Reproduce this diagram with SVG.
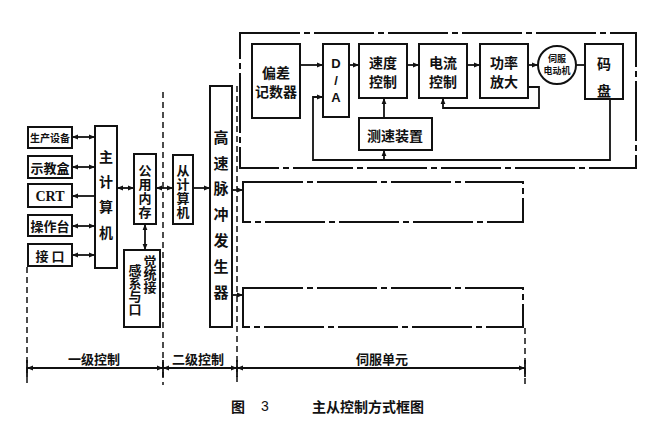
<svg xmlns="http://www.w3.org/2000/svg" width="650" height="422" viewBox="0 0 650 422">
<defs>
<style>
.b{fill:#fff;stroke:#111;stroke-width:2}
.dd{fill:none;stroke:#111;stroke-width:2;stroke-dasharray:60 4 6 4}
.c{fill:none;stroke:#111;stroke-width:1.8}
.sep{fill:none;stroke:#111;stroke-width:1.5;stroke-dasharray:6 4}
text{font-family:"Noto Sans CJK SC","Noto Sans",sans-serif;font-weight:bold;fill:#111;text-anchor:middle;dominant-baseline:central}
.v{writing-mode:vertical-rl;text-orientation:upright}
.t12{font-size:12px}
.t13{font-size:13px}
.t14{font-size:14px}
.t15{font-size:15px}
.sm{font-size:9px}
.en{font-family:"Liberation Serif",serif;font-size:14px}
.sans{font-family:"Liberation Sans",sans-serif;font-size:13px}
</style>
<marker id="ah" viewBox="0 0 10 10" refX="10" refY="5" markerWidth="7" markerHeight="6" markerUnits="userSpaceOnUse" orient="auto-start-reverse">
<path d="M0,1 L10,5 L0,9 z" fill="#111"/>
</marker>
</defs>
<rect width="650" height="422" fill="#fff"/>

<g id="separators">
<line class="sep" x1="27" y1="267" x2="27" y2="385"/>
<line class="sep" x1="163" y1="92" x2="163" y2="385"/>
<line class="sep" x1="237" y1="86" x2="237" y2="385"/>
<line class="sep" x1="525" y1="328" x2="525" y2="385"/>
</g>

<g id="n-shengchan"><rect class="b" x="28" y="127" width="44" height="21"/><text x="50" y="137.5" style="font-size:10px">生产设备</text></g>
<g id="n-shijiao"><rect class="b" x="28" y="156" width="44" height="22"/><text class="t13" x="50" y="167">示教盒</text></g>
<g id="n-crt"><rect class="b" x="28" y="184" width="44" height="23"/><text class="en" x="50" y="196">CRT</text></g>
<g id="n-caozuo"><rect class="b" x="28" y="215" width="44" height="21"/><text class="t13" x="50" y="225.5">操作台</text></g>
<g id="n-jiekou"><rect class="b" x="28" y="244" width="44" height="22"/><text class="t13" x="50" y="255">接 口</text></g>

<g id="n-zhu"><rect class="b" x="95" y="126" width="22" height="142"/>
<text class="t14 v" x="106" y="200" style="letter-spacing:11.3px">主计算机</text></g>

<g id="n-gongyong"><rect class="b" x="134" y="154" width="22" height="70"/>
<text class="t13 v" x="145" y="191.5" style="letter-spacing:1px">公用内存</text></g>

<g id="n-cong"><rect class="b" x="173" y="155" width="20" height="69"/>
<text class="t13 v" x="183" y="191.5" style="letter-spacing:1px">从计算机</text></g>

<g id="n-ganjue"><rect class="b" x="124" y="250" width="36" height="77"/>
<text class="t13 v" x="135" y="289.5">感系与口</text>
<text class="t13 v" x="150" y="274">觉统接</text></g>

<g id="n-gaosu"><rect class="b" x="210" y="86" width="22" height="241"/>
<text class="t15 v" x="221" y="220" style="letter-spacing:10.8px">高速脉冲发生器</text></g>

<g id="n-servo1"><rect class="dd" x="240" y="33" width="396" height="135"/></g>
<g id="n-servo2"><rect class="dd" x="243" y="182" width="280" height="40"/></g>
<g id="n-servo3"><rect class="dd" x="243" y="288" width="280" height="39"/></g>

<g id="n-piancha"><rect class="b" x="252" y="44" width="48" height="74"/><text class="t14"><tspan x="276" y="72">偏差</tspan><tspan x="276" y="91">记数器</tspan></text></g>
<g id="n-da"><rect class="b" x="323" y="44" width="26" height="73"/><text class="sans v" x="336" y="81" style="letter-spacing:2px">D/A</text></g>
<g id="n-sudu"><rect class="b" x="359" y="44" width="48" height="54"/><text class="t14"><tspan x="383" y="61.5">速度</tspan><tspan x="383" y="80.5">控制</tspan></text></g>
<g id="n-dianliu"><rect class="b" x="419" y="44" width="48" height="54"/><text class="t14"><tspan x="443" y="61.5">电流</tspan><tspan x="443" y="80.5">控制</tspan></text></g>
<g id="n-gonglv"><rect class="b" x="480" y="44" width="48" height="54"/><text class="t14"><tspan x="504" y="61.5">功率</tspan><tspan x="504" y="80.5">放大</tspan></text></g>
<g id="n-motor"><circle class="b" cx="557" cy="65" r="19"/><text class="sm"><tspan x="557" y="58">伺服</tspan><tspan x="557" y="70">电动机</tspan></text></g>
<g id="n-mapan"><rect class="b" x="585" y="44" width="38" height="55"/><text class="t14"><tspan x="604" y="63">码</tspan><tspan x="604" y="90">盘</tspan></text></g>
<g id="n-cesu"><rect class="b" x="359" y="118" width="73" height="32"/><text class="t14" x="395" y="135">测速装置</text></g>

<g id="connectors">
<line class="c" x1="72" y1="137" x2="95" y2="137" marker-start="url(#ah)" marker-end="url(#ah)"/>
<line class="c" x1="72" y1="167" x2="95" y2="167" marker-start="url(#ah)" marker-end="url(#ah)"/>
<line class="c" x1="72" y1="196" x2="95" y2="196" marker-start="url(#ah)"/>
<line class="c" x1="72" y1="226" x2="95" y2="226" marker-start="url(#ah)" marker-end="url(#ah)"/>
<line class="c" x1="72" y1="255" x2="95" y2="255" marker-start="url(#ah)" marker-end="url(#ah)"/>
<line class="c" x1="117" y1="188" x2="134" y2="188" marker-start="url(#ah)" marker-end="url(#ah)"/>
<line class="c" x1="156" y1="188" x2="173" y2="188" marker-start="url(#ah)" marker-end="url(#ah)"/>
<line class="c" x1="193" y1="188" x2="210" y2="188" marker-end="url(#ah)"/>
<line class="c" x1="145" y1="224" x2="145" y2="250" marker-start="url(#ah)" marker-end="url(#ah)"/>
<line class="c" x1="232" y1="190" x2="243" y2="190" marker-end="url(#ah)"/>
<line class="c" x1="232" y1="295" x2="243" y2="295" marker-end="url(#ah)"/>
<line class="c" x1="300" y1="65" x2="323" y2="65" marker-end="url(#ah)"/>
<line class="c" x1="349" y1="65" x2="359" y2="65" marker-end="url(#ah)"/>
<line class="c" x1="407" y1="65" x2="419" y2="65" marker-end="url(#ah)"/>
<line class="c" x1="467" y1="65" x2="480" y2="65" marker-end="url(#ah)"/>
<line class="c" x1="528" y1="65" x2="538" y2="65" marker-end="url(#ah)"/>
<line class="c" x1="576" y1="65" x2="585" y2="65"/>
<polyline class="c" points="528,87 539,87 539,108 443,108 443,98" marker-end="url(#ah)"/>
<line class="c" x1="384" y1="118" x2="384" y2="98" marker-end="url(#ah)"/>
<polyline class="c" points="610,99 610,160 313,160 313,97 323,97" marker-end="url(#ah)"/>
<line class="c" x1="384" y1="160" x2="384" y2="150" marker-end="url(#ah)"/>
</g>

<g id="dimensions">
<line class="c" x1="27" y1="368" x2="525" y2="368"/>
<line class="c" x1="27" y1="360" x2="27" y2="377"/>
<line class="c" x1="163" y1="360" x2="163" y2="377"/>
<line class="c" x1="237" y1="360" x2="237" y2="377"/>
<line class="c" x1="525" y1="360" x2="525" y2="377"/>
<line class="c" x1="40" y1="368" x2="27" y2="368" marker-end="url(#ah)"/>
<line class="c" x1="150" y1="368" x2="163" y2="368" marker-end="url(#ah)"/>
<line class="c" x1="176" y1="368" x2="163" y2="368" marker-end="url(#ah)"/>
<line class="c" x1="224" y1="368" x2="237" y2="368" marker-end="url(#ah)"/>
<line class="c" x1="250" y1="368" x2="237" y2="368" marker-end="url(#ah)"/>
<line class="c" x1="512" y1="368" x2="525" y2="368" marker-end="url(#ah)"/>
<text class="t13" x="94" y="358">一级控制</text>
<text class="t13" x="198" y="358">二级控制</text>
<text class="t13" x="382" y="358">伺服单元</text>
</g>

<g id="caption">
<text class="t14" x="238" y="406">图</text>
<text class="t14" x="265" y="406" style="font-family:'Liberation Sans',sans-serif;font-weight:normal">3</text>
<text class="t14" x="368" y="406">主从控制方式框图</text>
</g>
</svg>
